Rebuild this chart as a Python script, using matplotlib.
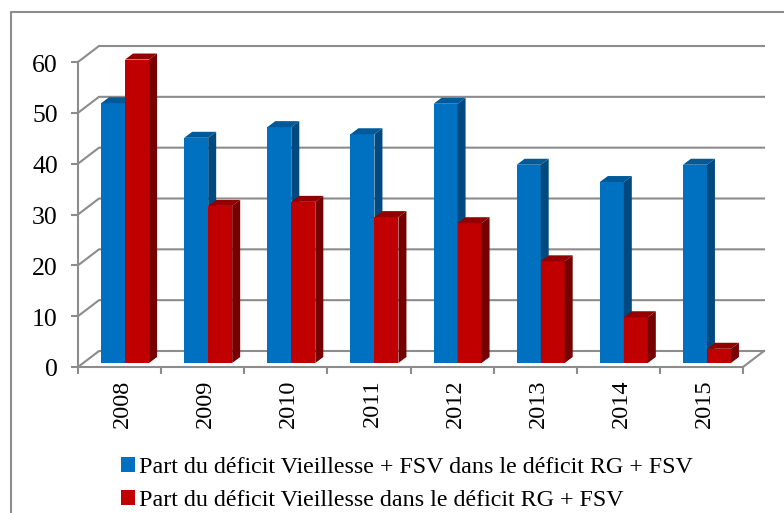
# -*- coding: utf-8 -*-
import matplotlib
matplotlib.use("Agg")
import matplotlib.pyplot as plt
from matplotlib.patches import Polygon, Patch
from matplotlib.lines import Line2D
from matplotlib.transforms import ScaledTranslation

years = ["2008", "2009", "2010", "2011", "2012", "2013", "2014", "2015"]
vieillesse_fsv = [51.1, 44.3, 46.4, 45.0, 51.0, 39.0, 35.6, 39.0]
vieillesse = [59.7, 30.9, 31.7, 28.7, 27.5, 20.0, 9.0, 2.8]
yticks = [0, 10, 20, 30, 40, 50, 60]
labels = ["Part du déficit Vieillesse + FSV dans le déficit RG + FSV",
          "Part du déficit Vieillesse dans le déficit RG + FSV"]

W, H = 784, 513
plt.rcParams["font.family"] = ["Liberation Serif", "DejaVu Serif"]
fig = plt.figure(figsize=(W/100, H/100), dpi=100)
# axes = front plane of the fake 3d box
ax = fig.add_axes([78/W, 1-367/H, 665/W, 305/H])
ax.set_xlim(0, 8)
ax.set_ylim(0, 60)
ax.patch.set_alpha(0)

GRID = "#8c8c8c"
px = 8/665      # data units per pixel, x
py = 60/305     # data units per pixel, y
DX, DY = 21*px, 16*py      # depth of the box
bx, by = 7.5*px, 4*py      # bar start inside the box
sx, sy = 8*px, 6*py        # bar depth
bw = 24*px

# back wall, left wall and floor
for v in yticks:
    ax.plot([0, DX, 8+DX], [v, v+DY, v+DY], color=GRID, lw=1.5, clip_on=False, zorder=1)
ax.plot([8, 8+DX], [0, DY], color=GRID, lw=1.5, clip_on=False, zorder=1)


def bar3d(x0, v, front, top, side, z):
    ax.add_patch(Polygon([(x0, by), (x0+bw, by), (x0+bw, by+v), (x0, by+v)],
                         fc=front, ec="none", clip_on=False, zorder=z))
    ax.add_patch(Polygon([(x0, by+v), (x0+bw, by+v), (x0+bw+sx, by+v+sy), (x0+sx, by+v+sy)],
                         fc=top, ec="none", clip_on=False, zorder=z))
    ax.add_patch(Polygon([(x0+bw, by), (x0+bw+sx, by+sy), (x0+bw+sx, by+v+sy), (x0+bw, by+v)],
                         fc=side, ec="none", clip_on=False, zorder=z))


for i in range(len(years)):
    c = i + 0.5 - 2*px
    bar3d(c-bw+bx, vieillesse_fsv[i], "#0070c0", "#005a9a", "#004a80", 3)
    bar3d(c+bx, vieillesse[i], "#c00000", "#930000", "#760000", 4)

for s in ["top", "right"]:
    ax.spines[s].set_visible(False)
for s in ["left", "bottom"]:
    ax.spines[s].set_color(GRID)
    ax.spines[s].set_linewidth(1.5)
    ax.spines[s].set_zorder(5)

ax.set_yticks(yticks)
ax.set_xticks(range(9))
ax.set_xticklabels([])
ax.set_xticks([i+0.5 for i in range(8)], minor=True)
ax.set_xticklabels(years, minor=True, rotation=90, fontsize=17.5)
ax.tick_params(axis="x", which="major", length=5, width=1.5, color=GRID)
ax.tick_params(axis="x", which="minor", length=0, pad=9)
ax.tick_params(axis="y", length=5, width=1.5, color=GRID, labelsize=18.5, pad=9.5)
shift = ScaledTranslation(3/100, 0, fig.dpi_scale_trans)
for t in ax.get_xticklabels(minor=True):
    t.set_transform(t.get_transform() + shift)
shift_y = ScaledTranslation(0, -1/100, fig.dpi_scale_trans)
for t in ax.get_yticklabels():
    t.set_transform(t.get_transform() + shift_y)

handles = [Patch(fc="#0070c0"), Patch(fc="#c00000")]
fig.legend(handles, labels, loc="upper left", bbox_to_anchor=(121/W, 1-457/H),
           frameon=False, fontsize=17.3, ncol=1, handlelength=0.6, handleheight=0.6,
           handletextpad=0.15, labelspacing=0.48, borderaxespad=0, borderpad=0)

# outer chart frame, no right side
fig.add_artist(Line2D([11/W, 11/W, 1], [0, 1-12/H, 1-12/H],
                      color="#8c8c8c", lw=1.5))

fig.savefig("out.png", dpi=100)
